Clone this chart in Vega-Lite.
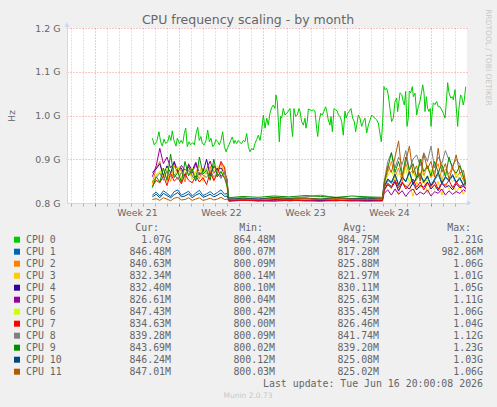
{
"$schema": "https://vega.github.io/schema/vega-lite/v6.json",
"autosize": "none",
"padding": {"left": 67, "top": 28, "right": 430, "bottom": 379},
"background": "#F0F0F0",
"bounds": "flush",
"spacing": 24.7,
"title": {"text": "RRDTOOL / TOBI OETIKER", "orient": "right", "anchor": "start", "frame": "bounds", "font": "DejaVu Sans", "fontSize": 7.5, "fontWeight": "normal", "color": "#C8C8C8", "offset": 1.5, "dx": -4.5},
"config": {"view": {"stroke": null}, "font": "DejaVu Sans"},
"datasets": {
"freq": [
{"cpu":0,"day":4.78,"mhz":948},{"cpu":0,"day":4.94,"mhz":933},{"cpu":0,"day":5.14,"mhz":940},{"cpu":0,"day":5.33,"mhz":963},{"cpu":0,"day":5.47,"mhz":940},{"cpu":0,"day":5.61,"mhz":930},{"cpu":0,"day":5.75,"mhz":946},{"cpu":0,"day":5.89,"mhz":936},{"cpu":0,"day":6.06,"mhz":940},{"cpu":0,"day":6.19,"mhz":955},{"cpu":0,"day":6.33,"mhz":943},{"cpu":0,"day":6.44,"mhz":965},{"cpu":0,"day":6.58,"mhz":943},{"cpu":0,"day":6.75,"mhz":930},{"cpu":0,"day":6.86,"mhz":948},{"cpu":0,"day":7.03,"mhz":936},{"cpu":0,"day":7.17,"mhz":943},{"cpu":0,"day":7.31,"mhz":936},{"cpu":0,"day":7.44,"mhz":959},{"cpu":0,"day":7.56,"mhz":971},{"cpu":0,"day":7.69,"mhz":929},{"cpu":0,"day":7.83,"mhz":940},{"cpu":0,"day":7.97,"mhz":933},{"cpu":0,"day":8.14,"mhz":938},{"cpu":0,"day":8.28,"mhz":933},{"cpu":0,"day":8.42,"mhz":959},{"cpu":0,"day":8.56,"mhz":973},{"cpu":0,"day":8.69,"mhz":943},{"cpu":0,"day":8.83,"mhz":952},{"cpu":0,"day":8.94,"mhz":936},{"cpu":0,"day":9.11,"mhz":933},{"cpu":0,"day":9.25,"mhz":943},{"cpu":0,"day":9.39,"mhz":967},{"cpu":0,"day":9.53,"mhz":940},{"cpu":0,"day":9.67,"mhz":948},{"cpu":0,"day":9.81,"mhz":929},{"cpu":0,"day":9.94,"mhz":933},{"cpu":0,"day":10.08,"mhz":945},{"cpu":0,"day":10.22,"mhz":940},{"cpu":0,"day":10.36,"mhz":933},{"cpu":0,"day":10.5,"mhz":943},{"cpu":0,"day":10.64,"mhz":963},{"cpu":0,"day":10.78,"mhz":929},{"cpu":0,"day":10.92,"mhz":917},{"cpu":0,"day":11.06,"mhz":927},{"cpu":0,"day":11.17,"mhz":933},{"cpu":0,"day":11.31,"mhz":943},{"cpu":0,"day":11.44,"mhz":951},{"cpu":0,"day":11.58,"mhz":936},{"cpu":0,"day":11.67,"mhz":943},{"cpu":0,"day":11.81,"mhz":936},{"cpu":0,"day":11.94,"mhz":943},{"cpu":0,"day":12.08,"mhz":938},{"cpu":0,"day":12.22,"mhz":936},{"cpu":0,"day":12.36,"mhz":943},{"cpu":0,"day":12.5,"mhz":940},{"cpu":0,"day":12.64,"mhz":959},{"cpu":0,"day":12.78,"mhz":929},{"cpu":0,"day":12.92,"mhz":917},{"cpu":0,"day":13.06,"mhz":925},{"cpu":0,"day":13.19,"mhz":921},{"cpu":0,"day":13.33,"mhz":936},{"cpu":0,"day":13.47,"mhz":945},{"cpu":0,"day":13.61,"mhz":955},{"cpu":0,"day":13.75,"mhz":943},{"cpu":0,"day":13.89,"mhz":967},{"cpu":0,"day":14.03,"mhz":1001},{"cpu":0,"day":14.17,"mhz":971},{"cpu":0,"day":14.31,"mhz":994},{"cpu":0,"day":14.44,"mhz":978},{"cpu":0,"day":14.58,"mhz":1005},{"cpu":0,"day":14.72,"mhz":1018},{"cpu":0,"day":14.86,"mhz":1024},{"cpu":0,"day":15.0,"mhz":1016},{"cpu":0,"day":15.08,"mhz":1047},{"cpu":0,"day":15.19,"mhz":1032},{"cpu":0,"day":15.28,"mhz":986},{"cpu":0,"day":15.36,"mhz":940},{"cpu":0,"day":15.47,"mhz":998},{"cpu":0,"day":15.56,"mhz":994},{"cpu":0,"day":15.69,"mhz":1016},{"cpu":0,"day":15.83,"mhz":1001},{"cpu":0,"day":15.97,"mhz":1005},{"cpu":0,"day":16.11,"mhz":1010},{"cpu":0,"day":16.25,"mhz":1016},{"cpu":0,"day":16.39,"mhz":971},{"cpu":0,"day":16.47,"mhz":952},{"cpu":0,"day":16.58,"mhz":1016},{"cpu":0,"day":16.72,"mhz":998},{"cpu":0,"day":16.86,"mhz":1001},{"cpu":0,"day":17.0,"mhz":1016},{"cpu":0,"day":17.08,"mhz":1010},{"cpu":0,"day":17.22,"mhz":986},{"cpu":0,"day":17.36,"mhz":978},{"cpu":0,"day":17.5,"mhz":994},{"cpu":0,"day":17.58,"mhz":971},{"cpu":0,"day":17.69,"mhz":986},{"cpu":0,"day":17.78,"mhz":1015},{"cpu":0,"day":17.92,"mhz":1013},{"cpu":0,"day":18.06,"mhz":1011},{"cpu":0,"day":18.19,"mhz":1013},{"cpu":0,"day":18.33,"mhz":1010},{"cpu":0,"day":18.47,"mhz":971},{"cpu":0,"day":18.56,"mhz":952},{"cpu":0,"day":18.67,"mhz":986},{"cpu":0,"day":18.81,"mhz":1005},{"cpu":0,"day":18.94,"mhz":1001},{"cpu":0,"day":19.08,"mhz":1010},{"cpu":0,"day":19.22,"mhz":1020},{"cpu":0,"day":19.31,"mhz":1010},{"cpu":0,"day":19.44,"mhz":990},{"cpu":0,"day":19.58,"mhz":978},{"cpu":0,"day":19.67,"mhz":998},{"cpu":0,"day":19.78,"mhz":963},{"cpu":0,"day":19.92,"mhz":1016},{"cpu":0,"day":20.06,"mhz":1013},{"cpu":0,"day":20.19,"mhz":1010},{"cpu":0,"day":20.28,"mhz":1001},{"cpu":0,"day":20.42,"mhz":998},{"cpu":0,"day":20.56,"mhz":986},{"cpu":0,"day":20.69,"mhz":955},{"cpu":0,"day":20.83,"mhz":1010},{"cpu":0,"day":20.92,"mhz":994},{"cpu":0,"day":21.06,"mhz":1005},{"cpu":0,"day":21.19,"mhz":1010},{"cpu":0,"day":21.33,"mhz":1016},{"cpu":0,"day":21.47,"mhz":994},{"cpu":0,"day":21.61,"mhz":986},{"cpu":0,"day":21.72,"mhz":963},{"cpu":0,"day":21.81,"mhz":978},{"cpu":0,"day":21.94,"mhz":1001},{"cpu":0,"day":22.08,"mhz":994},{"cpu":0,"day":22.22,"mhz":975},{"cpu":0,"day":22.36,"mhz":986},{"cpu":0,"day":22.5,"mhz":994},{"cpu":0,"day":22.64,"mhz":960},{"cpu":0,"day":22.78,"mhz":978},{"cpu":0,"day":22.92,"mhz":990},{"cpu":0,"day":23.06,"mhz":1001},{"cpu":0,"day":23.19,"mhz":997},{"cpu":0,"day":23.33,"mhz":994},{"cpu":0,"day":23.47,"mhz":990},{"cpu":0,"day":23.61,"mhz":983},{"cpu":0,"day":23.75,"mhz":958},{"cpu":0,"day":23.86,"mhz":940},{"cpu":0,"day":23.97,"mhz":983},{"cpu":0,"day":24.08,"mhz":1066},{"cpu":0,"day":24.17,"mhz":1059},{"cpu":0,"day":24.31,"mhz":1062},{"cpu":0,"day":24.44,"mhz":1047},{"cpu":0,"day":24.58,"mhz":1016},{"cpu":0,"day":24.72,"mhz":986},{"cpu":0,"day":24.86,"mhz":994},{"cpu":0,"day":25.0,"mhz":1032},{"cpu":0,"day":25.14,"mhz":1040},{"cpu":0,"day":25.22,"mhz":1009},{"cpu":0,"day":25.33,"mhz":1032},{"cpu":0,"day":25.42,"mhz":1052},{"cpu":0,"day":25.56,"mhz":1048},{"cpu":0,"day":25.69,"mhz":1032},{"cpu":0,"day":25.78,"mhz":1024},{"cpu":0,"day":25.89,"mhz":1055},{"cpu":0,"day":26.0,"mhz":975},{"cpu":0,"day":26.11,"mhz":994},{"cpu":0,"day":26.19,"mhz":1056},{"cpu":0,"day":26.31,"mhz":1052},{"cpu":0,"day":26.44,"mhz":1066},{"cpu":0,"day":26.53,"mhz":1043},{"cpu":0,"day":26.67,"mhz":1051},{"cpu":0,"day":26.81,"mhz":1001},{"cpu":0,"day":26.94,"mhz":1020},{"cpu":0,"day":27.08,"mhz":1032},{"cpu":0,"day":27.22,"mhz":1055},{"cpu":0,"day":27.31,"mhz":1070},{"cpu":0,"day":27.42,"mhz":1051},{"cpu":0,"day":27.5,"mhz":1009},{"cpu":0,"day":27.61,"mhz":1043},{"cpu":0,"day":27.72,"mhz":1016},{"cpu":0,"day":27.83,"mhz":1009},{"cpu":0,"day":27.94,"mhz":1016},{"cpu":0,"day":28.0,"mhz":975},{"cpu":0,"day":28.11,"mhz":1009},{"cpu":0,"day":28.19,"mhz":1029},{"cpu":0,"day":28.33,"mhz":1025},{"cpu":0,"day":28.47,"mhz":1032},{"cpu":0,"day":28.61,"mhz":1020},{"cpu":0,"day":28.75,"mhz":1020},{"cpu":0,"day":28.89,"mhz":1013},{"cpu":0,"day":29.03,"mhz":1005},{"cpu":0,"day":29.17,"mhz":994},{"cpu":0,"day":29.28,"mhz":1032},{"cpu":0,"day":29.39,"mhz":1075},{"cpu":0,"day":29.5,"mhz":1052},{"cpu":0,"day":29.64,"mhz":1040},{"cpu":0,"day":29.78,"mhz":1043},{"cpu":0,"day":29.86,"mhz":1036},{"cpu":0,"day":30.0,"mhz":1059},{"cpu":0,"day":30.11,"mhz":1017},{"cpu":0,"day":30.22,"mhz":975},{"cpu":0,"day":30.33,"mhz":1017},{"cpu":0,"day":30.47,"mhz":1047},{"cpu":0,"day":30.56,"mhz":1043},{"cpu":0,"day":30.69,"mhz":1024},{"cpu":0,"day":30.78,"mhz":1036},{"cpu":0,"day":30.89,"mhz":1066},
{"cpu":1,"day":4.78,"mhz":818},{"cpu":1,"day":5.1,"mhz":825},{"cpu":1,"day":5.4,"mhz":816},{"cpu":1,"day":5.7,"mhz":828},{"cpu":1,"day":6.0,"mhz":822},{"cpu":1,"day":6.3,"mhz":815},{"cpu":1,"day":6.6,"mhz":826},{"cpu":1,"day":6.9,"mhz":830},{"cpu":1,"day":7.2,"mhz":818},{"cpu":1,"day":7.5,"mhz":822},{"cpu":1,"day":7.8,"mhz":827},{"cpu":1,"day":8.1,"mhz":816},{"cpu":1,"day":8.4,"mhz":823},{"cpu":1,"day":8.7,"mhz":829},{"cpu":1,"day":9.0,"mhz":817},{"cpu":1,"day":9.3,"mhz":821},{"cpu":1,"day":9.6,"mhz":826},{"cpu":1,"day":9.9,"mhz":819},{"cpu":1,"day":10.2,"mhz":824},{"cpu":1,"day":10.5,"mhz":830},{"cpu":1,"day":10.8,"mhz":820},{"cpu":1,"day":11.0,"mhz":822},
{"cpu":1,"day":11.15,"mhz":806},{"cpu":1,"day":12.3,"mhz":808},{"cpu":1,"day":13.6,"mhz":805},{"cpu":1,"day":14.9,"mhz":809},{"cpu":1,"day":16.2,"mhz":806},{"cpu":1,"day":17.5,"mhz":807},{"cpu":1,"day":18.8,"mhz":805},{"cpu":1,"day":20.1,"mhz":808},{"cpu":1,"day":21.4,"mhz":806},{"cpu":1,"day":22.7,"mhz":807},{"cpu":1,"day":23.95,"mhz":806},
{"cpu":1,"day":24.1,"mhz":835},{"cpu":1,"day":24.4,"mhz":852},{"cpu":1,"day":24.7,"mhz":845},{"cpu":1,"day":25.0,"mhz":862},{"cpu":1,"day":25.3,"mhz":840},{"cpu":1,"day":25.6,"mhz":858},{"cpu":1,"day":25.9,"mhz":848},{"cpu":1,"day":26.2,"mhz":870},{"cpu":1,"day":26.5,"mhz":842},{"cpu":1,"day":26.8,"mhz":855},{"cpu":1,"day":27.1,"mhz":864},{"cpu":1,"day":27.4,"mhz":846},{"cpu":1,"day":27.7,"mhz":860},{"cpu":1,"day":28.0,"mhz":838},{"cpu":1,"day":28.3,"mhz":852},{"cpu":1,"day":28.6,"mhz":866},{"cpu":1,"day":28.9,"mhz":844},{"cpu":1,"day":29.2,"mhz":858},{"cpu":1,"day":29.5,"mhz":850},{"cpu":1,"day":29.8,"mhz":862},{"cpu":1,"day":30.1,"mhz":845},{"cpu":1,"day":30.4,"mhz":856},{"cpu":1,"day":30.7,"mhz":840},{"cpu":1,"day":30.89,"mhz":846},
{"cpu":2,"day":4.78,"mhz":845},{"cpu":2,"day":5.1,"mhz":880},{"cpu":2,"day":5.4,"mhz":895},{"cpu":2,"day":5.7,"mhz":860},{"cpu":2,"day":6.0,"mhz":872},{"cpu":2,"day":6.3,"mhz":850},{"cpu":2,"day":6.6,"mhz":885},{"cpu":2,"day":6.9,"mhz":868},{"cpu":2,"day":7.2,"mhz":876},{"cpu":2,"day":7.5,"mhz":848},{"cpu":2,"day":7.8,"mhz":890},{"cpu":2,"day":8.1,"mhz":862},{"cpu":2,"day":8.4,"mhz":870},{"cpu":2,"day":8.7,"mhz":855},{"cpu":2,"day":9.0,"mhz":880},{"cpu":2,"day":9.3,"mhz":866},{"cpu":2,"day":9.6,"mhz":884},{"cpu":2,"day":9.9,"mhz":850},{"cpu":2,"day":10.2,"mhz":875},{"cpu":2,"day":10.5,"mhz":892},{"cpu":2,"day":10.8,"mhz":858},{"cpu":2,"day":11.0,"mhz":846},
{"cpu":2,"day":11.15,"mhz":807},{"cpu":2,"day":12.3,"mhz":809},{"cpu":2,"day":13.6,"mhz":806},{"cpu":2,"day":14.9,"mhz":808},{"cpu":2,"day":16.2,"mhz":810},{"cpu":2,"day":17.5,"mhz":807},{"cpu":2,"day":18.8,"mhz":809},{"cpu":2,"day":20.1,"mhz":806},{"cpu":2,"day":21.4,"mhz":808},{"cpu":2,"day":22.7,"mhz":807},{"cpu":2,"day":23.95,"mhz":808},
{"cpu":2,"day":24.1,"mhz":840},{"cpu":2,"day":24.4,"mhz":870},{"cpu":2,"day":24.7,"mhz":895},{"cpu":2,"day":25.0,"mhz":860},{"cpu":2,"day":25.3,"mhz":880},{"cpu":2,"day":25.6,"mhz":848},{"cpu":2,"day":25.9,"mhz":890},{"cpu":2,"day":26.2,"mhz":868},{"cpu":2,"day":26.5,"mhz":875},{"cpu":2,"day":26.8,"mhz":852},{"cpu":2,"day":27.1,"mhz":900},{"cpu":2,"day":27.4,"mhz":862},{"cpu":2,"day":27.7,"mhz":885},{"cpu":2,"day":28.0,"mhz":858},{"cpu":2,"day":28.3,"mhz":872},{"cpu":2,"day":28.6,"mhz":890},{"cpu":2,"day":28.9,"mhz":850},{"cpu":2,"day":29.2,"mhz":878},{"cpu":2,"day":29.5,"mhz":866},{"cpu":2,"day":29.8,"mhz":884},{"cpu":2,"day":30.1,"mhz":858},{"cpu":2,"day":30.4,"mhz":870},{"cpu":2,"day":30.7,"mhz":852},{"cpu":2,"day":30.89,"mhz":841},
{"cpu":3,"day":4.78,"mhz":840},{"cpu":3,"day":5.1,"mhz":865},{"cpu":3,"day":5.4,"mhz":870},{"cpu":3,"day":5.7,"mhz":880},{"cpu":3,"day":6.0,"mhz":848},{"cpu":3,"day":6.3,"mhz":873},{"cpu":3,"day":6.6,"mhz":858},{"cpu":3,"day":6.9,"mhz":882},{"cpu":3,"day":7.2,"mhz":846},{"cpu":3,"day":7.5,"mhz":868},{"cpu":3,"day":7.8,"mhz":876},{"cpu":3,"day":8.1,"mhz":855},{"cpu":3,"day":8.4,"mhz":872},{"cpu":3,"day":8.7,"mhz":886},{"cpu":3,"day":9.0,"mhz":850},{"cpu":3,"day":9.3,"mhz":878},{"cpu":3,"day":9.6,"mhz":866},{"cpu":3,"day":9.9,"mhz":888},{"cpu":3,"day":10.2,"mhz":860},{"cpu":3,"day":10.5,"mhz":870},{"cpu":3,"day":10.8,"mhz":884},{"cpu":3,"day":11.0,"mhz":835},
{"cpu":3,"day":11.15,"mhz":808},{"cpu":3,"day":12.3,"mhz":810},{"cpu":3,"day":13.6,"mhz":807},{"cpu":3,"day":14.9,"mhz":811},{"cpu":3,"day":16.2,"mhz":808},{"cpu":3,"day":17.5,"mhz":812},{"cpu":3,"day":18.8,"mhz":809},{"cpu":3,"day":20.1,"mhz":810},{"cpu":3,"day":21.4,"mhz":808},{"cpu":3,"day":22.7,"mhz":811},{"cpu":3,"day":23.95,"mhz":809},
{"cpu":3,"day":24.1,"mhz":825},{"cpu":3,"day":24.4,"mhz":845},{"cpu":3,"day":24.7,"mhz":832},{"cpu":3,"day":25.0,"mhz":858},{"cpu":3,"day":25.3,"mhz":820},{"cpu":3,"day":25.6,"mhz":850},{"cpu":3,"day":25.9,"mhz":838},{"cpu":3,"day":26.2,"mhz":845},{"cpu":3,"day":26.5,"mhz":815},{"cpu":3,"day":26.8,"mhz":848},{"cpu":3,"day":27.1,"mhz":835},{"cpu":3,"day":27.4,"mhz":855},{"cpu":3,"day":27.7,"mhz":822},{"cpu":3,"day":28.0,"mhz":842},{"cpu":3,"day":28.3,"mhz":830},{"cpu":3,"day":28.6,"mhz":850},{"cpu":3,"day":28.9,"mhz":818},{"cpu":3,"day":29.2,"mhz":845},{"cpu":3,"day":29.5,"mhz":832},{"cpu":3,"day":29.8,"mhz":840},{"cpu":3,"day":30.1,"mhz":825},{"cpu":3,"day":30.4,"mhz":838},{"cpu":3,"day":30.7,"mhz":820},{"cpu":3,"day":30.89,"mhz":832},
{"cpu":4,"day":4.78,"mhz":870},{"cpu":4,"day":5.1,"mhz":878},{"cpu":4,"day":5.4,"mhz":890},{"cpu":4,"day":5.7,"mhz":862},{"cpu":4,"day":6.0,"mhz":885},{"cpu":4,"day":6.3,"mhz":868},{"cpu":4,"day":6.6,"mhz":895},{"cpu":4,"day":6.9,"mhz":872},{"cpu":4,"day":7.2,"mhz":880},{"cpu":4,"day":7.5,"mhz":860},{"cpu":4,"day":7.8,"mhz":888},{"cpu":4,"day":8.1,"mhz":875},{"cpu":4,"day":8.4,"mhz":893},{"cpu":4,"day":8.7,"mhz":866},{"cpu":4,"day":9.0,"mhz":870},{"cpu":4,"day":9.3,"mhz":900},{"cpu":4,"day":9.6,"mhz":862},{"cpu":4,"day":9.9,"mhz":884},{"cpu":4,"day":10.2,"mhz":876},{"cpu":4,"day":10.5,"mhz":880},{"cpu":4,"day":10.8,"mhz":868},{"cpu":4,"day":11.0,"mhz":855},
{"cpu":4,"day":11.15,"mhz":805},{"cpu":4,"day":12.3,"mhz":807},{"cpu":4,"day":13.6,"mhz":806},{"cpu":4,"day":14.9,"mhz":808},{"cpu":4,"day":16.2,"mhz":805},{"cpu":4,"day":17.5,"mhz":807},{"cpu":4,"day":18.8,"mhz":806},{"cpu":4,"day":20.1,"mhz":805},{"cpu":4,"day":21.4,"mhz":807},{"cpu":4,"day":22.7,"mhz":806},{"cpu":4,"day":23.95,"mhz":805},
{"cpu":4,"day":24.1,"mhz":830},{"cpu":4,"day":24.4,"mhz":842},{"cpu":4,"day":24.7,"mhz":835},{"cpu":4,"day":25.0,"mhz":848},{"cpu":4,"day":25.3,"mhz":828},{"cpu":4,"day":25.6,"mhz":845},{"cpu":4,"day":25.9,"mhz":838},{"cpu":4,"day":26.2,"mhz":832},{"cpu":4,"day":26.5,"mhz":846},{"cpu":4,"day":26.8,"mhz":830},{"cpu":4,"day":27.1,"mhz":840},{"cpu":4,"day":27.4,"mhz":836},{"cpu":4,"day":27.7,"mhz":848},{"cpu":4,"day":28.0,"mhz":832},{"cpu":4,"day":28.3,"mhz":842},{"cpu":4,"day":28.6,"mhz":828},{"cpu":4,"day":28.9,"mhz":845},{"cpu":4,"day":29.2,"mhz":836},{"cpu":4,"day":29.5,"mhz":840},{"cpu":4,"day":29.8,"mhz":830},{"cpu":4,"day":30.1,"mhz":844},{"cpu":4,"day":30.4,"mhz":835},{"cpu":4,"day":30.7,"mhz":838},{"cpu":4,"day":30.89,"mhz":832},
{"cpu":5,"day":4.78,"mhz":860},{"cpu":5,"day":5.1,"mhz":885},{"cpu":5,"day":5.4,"mhz":925},{"cpu":5,"day":5.7,"mhz":890},{"cpu":5,"day":6.0,"mhz":905},{"cpu":5,"day":6.3,"mhz":880},{"cpu":5,"day":6.6,"mhz":892},{"cpu":5,"day":6.9,"mhz":870},{"cpu":5,"day":7.2,"mhz":886},{"cpu":5,"day":7.5,"mhz":875},{"cpu":5,"day":7.8,"mhz":882},{"cpu":5,"day":8.1,"mhz":868},{"cpu":5,"day":8.4,"mhz":890},{"cpu":5,"day":8.7,"mhz":864},{"cpu":5,"day":9.0,"mhz":872},{"cpu":5,"day":9.3,"mhz":878},{"cpu":5,"day":9.6,"mhz":896},{"cpu":5,"day":9.9,"mhz":868},{"cpu":5,"day":10.2,"mhz":880},{"cpu":5,"day":10.5,"mhz":860},{"cpu":5,"day":10.8,"mhz":872},{"cpu":5,"day":11.0,"mhz":850},
{"cpu":5,"day":11.15,"mhz":806},{"cpu":5,"day":12.3,"mhz":807},{"cpu":5,"day":13.6,"mhz":805},{"cpu":5,"day":14.9,"mhz":806},{"cpu":5,"day":16.2,"mhz":808},{"cpu":5,"day":17.5,"mhz":805},{"cpu":5,"day":18.8,"mhz":807},{"cpu":5,"day":20.1,"mhz":806},{"cpu":5,"day":21.4,"mhz":805},{"cpu":5,"day":22.7,"mhz":807},{"cpu":5,"day":23.95,"mhz":806},
{"cpu":5,"day":24.1,"mhz":822},{"cpu":5,"day":24.4,"mhz":830},{"cpu":5,"day":24.7,"mhz":818},{"cpu":5,"day":25.0,"mhz":832},{"cpu":5,"day":25.3,"mhz":820},{"cpu":5,"day":25.6,"mhz":828},{"cpu":5,"day":25.9,"mhz":815},{"cpu":5,"day":26.2,"mhz":826},{"cpu":5,"day":26.5,"mhz":832},{"cpu":5,"day":26.8,"mhz":818},{"cpu":5,"day":27.1,"mhz":825},{"cpu":5,"day":27.4,"mhz":820},{"cpu":5,"day":27.7,"mhz":830},{"cpu":5,"day":28.0,"mhz":816},{"cpu":5,"day":28.3,"mhz":826},{"cpu":5,"day":28.6,"mhz":822},{"cpu":5,"day":28.9,"mhz":832},{"cpu":5,"day":29.2,"mhz":818},{"cpu":5,"day":29.5,"mhz":828},{"cpu":5,"day":29.8,"mhz":820},{"cpu":5,"day":30.1,"mhz":826},{"cpu":5,"day":30.4,"mhz":822},{"cpu":5,"day":30.7,"mhz":830},{"cpu":5,"day":30.89,"mhz":827},
{"cpu":6,"day":4.78,"mhz":850},{"cpu":6,"day":5.1,"mhz":862},{"cpu":6,"day":5.4,"mhz":872},{"cpu":6,"day":5.7,"mhz":858},{"cpu":6,"day":6.0,"mhz":880},{"cpu":6,"day":6.3,"mhz":866},{"cpu":6,"day":6.6,"mhz":870},{"cpu":6,"day":6.9,"mhz":884},{"cpu":6,"day":7.2,"mhz":858},{"cpu":6,"day":7.5,"mhz":876},{"cpu":6,"day":7.8,"mhz":864},{"cpu":6,"day":8.1,"mhz":880},{"cpu":6,"day":8.4,"mhz":862},{"cpu":6,"day":8.7,"mhz":875},{"cpu":6,"day":9.0,"mhz":868},{"cpu":6,"day":9.3,"mhz":882},{"cpu":6,"day":9.6,"mhz":858},{"cpu":6,"day":9.9,"mhz":872},{"cpu":6,"day":10.2,"mhz":885},{"cpu":6,"day":10.5,"mhz":866},{"cpu":6,"day":10.8,"mhz":874},{"cpu":6,"day":11.0,"mhz":848},
{"cpu":6,"day":11.15,"mhz":809},{"cpu":6,"day":12.3,"mhz":811},{"cpu":6,"day":13.6,"mhz":808},{"cpu":6,"day":14.9,"mhz":810},{"cpu":6,"day":16.2,"mhz":812},{"cpu":6,"day":17.5,"mhz":809},{"cpu":6,"day":18.8,"mhz":811},{"cpu":6,"day":20.1,"mhz":813},{"cpu":6,"day":21.4,"mhz":810},{"cpu":6,"day":22.7,"mhz":812},{"cpu":6,"day":23.95,"mhz":809},
{"cpu":6,"day":24.1,"mhz":845},{"cpu":6,"day":24.4,"mhz":862},{"cpu":6,"day":24.7,"mhz":875},{"cpu":6,"day":25.0,"mhz":850},{"cpu":6,"day":25.3,"mhz":868},{"cpu":6,"day":25.6,"mhz":858},{"cpu":6,"day":25.9,"mhz":880},{"cpu":6,"day":26.2,"mhz":846},{"cpu":6,"day":26.5,"mhz":870},{"cpu":6,"day":26.8,"mhz":855},{"cpu":6,"day":27.1,"mhz":872},{"cpu":6,"day":27.4,"mhz":862},{"cpu":6,"day":27.7,"mhz":848},{"cpu":6,"day":28.0,"mhz":876},{"cpu":6,"day":28.3,"mhz":858},{"cpu":6,"day":28.6,"mhz":866},{"cpu":6,"day":28.9,"mhz":852},{"cpu":6,"day":29.2,"mhz":870},{"cpu":6,"day":29.5,"mhz":860},{"cpu":6,"day":29.8,"mhz":848},{"cpu":6,"day":30.1,"mhz":866},{"cpu":6,"day":30.4,"mhz":855},{"cpu":6,"day":30.7,"mhz":862},{"cpu":6,"day":30.89,"mhz":847},
{"cpu":7,"day":4.78,"mhz":838},{"cpu":7,"day":5.1,"mhz":852},{"cpu":7,"day":5.4,"mhz":846},{"cpu":7,"day":5.7,"mhz":862},{"cpu":7,"day":6.0,"mhz":840},{"cpu":7,"day":6.3,"mhz":868},{"cpu":7,"day":6.6,"mhz":850},{"cpu":7,"day":6.9,"mhz":858},{"cpu":7,"day":7.2,"mhz":844},{"cpu":7,"day":7.5,"mhz":866},{"cpu":7,"day":7.8,"mhz":852},{"cpu":7,"day":8.1,"mhz":846},{"cpu":7,"day":8.4,"mhz":862},{"cpu":7,"day":8.7,"mhz":848},{"cpu":7,"day":9.0,"mhz":858},{"cpu":7,"day":9.3,"mhz":842},{"cpu":7,"day":9.6,"mhz":870},{"cpu":7,"day":9.9,"mhz":852},{"cpu":7,"day":10.2,"mhz":866},{"cpu":7,"day":10.5,"mhz":895},{"cpu":7,"day":10.8,"mhz":880},{"cpu":7,"day":11.0,"mhz":845},
{"cpu":7,"day":11.15,"mhz":804},{"cpu":7,"day":12.3,"mhz":806},{"cpu":7,"day":13.6,"mhz":805},{"cpu":7,"day":14.9,"mhz":804},{"cpu":7,"day":16.2,"mhz":806},{"cpu":7,"day":17.5,"mhz":805},{"cpu":7,"day":18.8,"mhz":804},{"cpu":7,"day":20.1,"mhz":806},{"cpu":7,"day":21.4,"mhz":805},{"cpu":7,"day":22.7,"mhz":804},{"cpu":7,"day":23.95,"mhz":805},
{"cpu":7,"day":24.1,"mhz":830},{"cpu":7,"day":24.4,"mhz":845},{"cpu":7,"day":24.7,"mhz":838},{"cpu":7,"day":25.0,"mhz":852},{"cpu":7,"day":25.3,"mhz":835},{"cpu":7,"day":25.6,"mhz":848},{"cpu":7,"day":25.9,"mhz":832},{"cpu":7,"day":26.2,"mhz":842},{"cpu":7,"day":26.5,"mhz":855},{"cpu":7,"day":26.8,"mhz":836},{"cpu":7,"day":27.1,"mhz":848},{"cpu":7,"day":27.4,"mhz":830},{"cpu":7,"day":27.7,"mhz":845},{"cpu":7,"day":28.0,"mhz":838},{"cpu":7,"day":28.3,"mhz":850},{"cpu":7,"day":28.6,"mhz":832},{"cpu":7,"day":28.9,"mhz":846},{"cpu":7,"day":29.2,"mhz":840},{"cpu":7,"day":29.5,"mhz":852},{"cpu":7,"day":29.8,"mhz":835},{"cpu":7,"day":30.1,"mhz":848},{"cpu":7,"day":30.4,"mhz":838},{"cpu":7,"day":30.7,"mhz":842},{"cpu":7,"day":30.89,"mhz":835},
{"cpu":8,"day":4.78,"mhz":848},{"cpu":8,"day":5.1,"mhz":858},{"cpu":8,"day":5.4,"mhz":868},{"cpu":8,"day":5.7,"mhz":852},{"cpu":8,"day":6.0,"mhz":874},{"cpu":8,"day":6.3,"mhz":860},{"cpu":8,"day":6.6,"mhz":866},{"cpu":8,"day":6.9,"mhz":854},{"cpu":8,"day":7.2,"mhz":870},{"cpu":8,"day":7.5,"mhz":858},{"cpu":8,"day":7.8,"mhz":876},{"cpu":8,"day":8.1,"mhz":862},{"cpu":8,"day":8.4,"mhz":852},{"cpu":8,"day":8.7,"mhz":870},{"cpu":8,"day":9.0,"mhz":864},{"cpu":8,"day":9.3,"mhz":858},{"cpu":8,"day":9.6,"mhz":874},{"cpu":8,"day":9.9,"mhz":860},{"cpu":8,"day":10.2,"mhz":868},{"cpu":8,"day":10.5,"mhz":856},{"cpu":8,"day":10.8,"mhz":872},{"cpu":8,"day":11.0,"mhz":850},
{"cpu":8,"day":11.15,"mhz":810},{"cpu":8,"day":12.3,"mhz":812},{"cpu":8,"day":13.6,"mhz":809},{"cpu":8,"day":14.9,"mhz":813},{"cpu":8,"day":16.2,"mhz":811},{"cpu":8,"day":17.5,"mhz":814},{"cpu":8,"day":18.8,"mhz":818},{"cpu":8,"day":20.1,"mhz":812},{"cpu":8,"day":21.4,"mhz":810},{"cpu":8,"day":22.7,"mhz":813},{"cpu":8,"day":23.95,"mhz":811},
{"cpu":8,"day":24.1,"mhz":850},{"cpu":8,"day":24.4,"mhz":895},{"cpu":8,"day":24.7,"mhz":915},{"cpu":8,"day":25.0,"mhz":880},{"cpu":8,"day":25.3,"mhz":905},{"cpu":8,"day":25.6,"mhz":888},{"cpu":8,"day":25.9,"mhz":920},{"cpu":8,"day":26.2,"mhz":876},{"cpu":8,"day":26.5,"mhz":900},{"cpu":8,"day":26.8,"mhz":910},{"cpu":8,"day":27.1,"mhz":885},{"cpu":8,"day":27.4,"mhz":915},{"cpu":8,"day":27.7,"mhz":895},{"cpu":8,"day":28.0,"mhz":930},{"cpu":8,"day":28.3,"mhz":880},{"cpu":8,"day":28.6,"mhz":905},{"cpu":8,"day":28.9,"mhz":890},{"cpu":8,"day":29.2,"mhz":920},{"cpu":8,"day":29.5,"mhz":898},{"cpu":8,"day":29.8,"mhz":885},{"cpu":8,"day":30.1,"mhz":900},{"cpu":8,"day":30.4,"mhz":888},{"cpu":8,"day":30.7,"mhz":860},{"cpu":8,"day":30.89,"mhz":839},
{"cpu":9,"day":4.78,"mhz":835},{"cpu":9,"day":5.1,"mhz":860},{"cpu":9,"day":5.4,"mhz":848},{"cpu":9,"day":5.7,"mhz":880},{"cpu":9,"day":6.0,"mhz":852},{"cpu":9,"day":6.3,"mhz":912},{"cpu":9,"day":6.6,"mhz":858},{"cpu":9,"day":6.9,"mhz":870},{"cpu":9,"day":7.2,"mhz":848},{"cpu":9,"day":7.5,"mhz":895},{"cpu":9,"day":7.8,"mhz":862},{"cpu":9,"day":8.1,"mhz":878},{"cpu":9,"day":8.4,"mhz":850},{"cpu":9,"day":8.7,"mhz":905},{"cpu":9,"day":9.0,"mhz":866},{"cpu":9,"day":9.3,"mhz":875},{"cpu":9,"day":9.6,"mhz":852},{"cpu":9,"day":9.9,"mhz":900},{"cpu":9,"day":10.2,"mhz":860},{"cpu":9,"day":10.5,"mhz":872},{"cpu":9,"day":10.8,"mhz":856},{"cpu":9,"day":11.0,"mhz":840},
{"cpu":9,"day":11.15,"mhz":812},{"cpu":9,"day":12.3,"mhz":815},{"cpu":9,"day":13.6,"mhz":813},{"cpu":9,"day":14.9,"mhz":816},{"cpu":9,"day":16.2,"mhz":814},{"cpu":9,"day":17.5,"mhz":817},{"cpu":9,"day":18.8,"mhz":815},{"cpu":9,"day":20.1,"mhz":813},{"cpu":9,"day":21.4,"mhz":816},{"cpu":9,"day":22.7,"mhz":814},{"cpu":9,"day":23.95,"mhz":813},
{"cpu":9,"day":24.1,"mhz":845},{"cpu":9,"day":24.4,"mhz":880},{"cpu":9,"day":24.7,"mhz":915},{"cpu":9,"day":25.0,"mhz":870},{"cpu":9,"day":25.3,"mhz":895},{"cpu":9,"day":25.6,"mhz":862},{"cpu":9,"day":25.9,"mhz":905},{"cpu":9,"day":26.2,"mhz":875},{"cpu":9,"day":26.5,"mhz":890},{"cpu":9,"day":26.8,"mhz":858},{"cpu":9,"day":27.1,"mhz":900},{"cpu":9,"day":27.4,"mhz":872},{"cpu":9,"day":27.7,"mhz":885},{"cpu":9,"day":28.0,"mhz":862},{"cpu":9,"day":28.3,"mhz":895},{"cpu":9,"day":28.6,"mhz":870},{"cpu":9,"day":28.9,"mhz":888},{"cpu":9,"day":29.2,"mhz":860},{"cpu":9,"day":29.5,"mhz":905},{"cpu":9,"day":29.8,"mhz":878},{"cpu":9,"day":30.1,"mhz":868},{"cpu":9,"day":30.4,"mhz":885},{"cpu":9,"day":30.7,"mhz":860},{"cpu":9,"day":30.89,"mhz":844},
{"cpu":10,"day":4.78,"mhz":814},{"cpu":10,"day":5.1,"mhz":820},{"cpu":10,"day":5.4,"mhz":812},{"cpu":10,"day":5.7,"mhz":822},{"cpu":10,"day":6.0,"mhz":817},{"cpu":10,"day":6.3,"mhz":812},{"cpu":10,"day":6.6,"mhz":819},{"cpu":10,"day":6.9,"mhz":824},{"cpu":10,"day":7.2,"mhz":814},{"cpu":10,"day":7.5,"mhz":816},{"cpu":10,"day":7.8,"mhz":821},{"cpu":10,"day":8.1,"mhz":812},{"cpu":10,"day":8.4,"mhz":818},{"cpu":10,"day":8.7,"mhz":822},{"cpu":10,"day":9.0,"mhz":813},{"cpu":10,"day":9.3,"mhz":816},{"cpu":10,"day":9.6,"mhz":820},{"cpu":10,"day":9.9,"mhz":814},{"cpu":10,"day":10.2,"mhz":818},{"cpu":10,"day":10.5,"mhz":823},{"cpu":10,"day":10.8,"mhz":815},{"cpu":10,"day":11.0,"mhz":816},
{"cpu":10,"day":11.15,"mhz":808},{"cpu":10,"day":12.3,"mhz":811},{"cpu":10,"day":13.6,"mhz":809},{"cpu":10,"day":14.9,"mhz":812},{"cpu":10,"day":16.2,"mhz":810},{"cpu":10,"day":17.5,"mhz":811},{"cpu":10,"day":18.8,"mhz":809},{"cpu":10,"day":20.1,"mhz":812},{"cpu":10,"day":21.4,"mhz":810},{"cpu":10,"day":22.7,"mhz":811},{"cpu":10,"day":23.95,"mhz":809},
{"cpu":10,"day":24.1,"mhz":838},{"cpu":10,"day":24.4,"mhz":855},{"cpu":10,"day":24.7,"mhz":848},{"cpu":10,"day":25.0,"mhz":866},{"cpu":10,"day":25.3,"mhz":842},{"cpu":10,"day":25.6,"mhz":860},{"cpu":10,"day":25.9,"mhz":850},{"cpu":10,"day":26.2,"mhz":872},{"cpu":10,"day":26.5,"mhz":845},{"cpu":10,"day":26.8,"mhz":858},{"cpu":10,"day":27.1,"mhz":868},{"cpu":10,"day":27.4,"mhz":848},{"cpu":10,"day":27.7,"mhz":862},{"cpu":10,"day":28.0,"mhz":840},{"cpu":10,"day":28.3,"mhz":855},{"cpu":10,"day":28.6,"mhz":870},{"cpu":10,"day":28.9,"mhz":846},{"cpu":10,"day":29.2,"mhz":860},{"cpu":10,"day":29.5,"mhz":852},{"cpu":10,"day":29.8,"mhz":865},{"cpu":10,"day":30.1,"mhz":848},{"cpu":10,"day":30.4,"mhz":858},{"cpu":10,"day":30.7,"mhz":842},{"cpu":10,"day":30.89,"mhz":846},
{"cpu":11,"day":4.78,"mhz":808},{"cpu":11,"day":5.1,"mhz":810},{"cpu":11,"day":5.4,"mhz":806},{"cpu":11,"day":5.7,"mhz":812},{"cpu":11,"day":6.0,"mhz":809},{"cpu":11,"day":6.3,"mhz":805},{"cpu":11,"day":6.6,"mhz":811},{"cpu":11,"day":6.9,"mhz":813},{"cpu":11,"day":7.2,"mhz":807},{"cpu":11,"day":7.5,"mhz":808},{"cpu":11,"day":7.8,"mhz":812},{"cpu":11,"day":8.1,"mhz":806},{"cpu":11,"day":8.4,"mhz":809},{"cpu":11,"day":8.7,"mhz":812},{"cpu":11,"day":9.0,"mhz":806},{"cpu":11,"day":9.3,"mhz":808},{"cpu":11,"day":9.6,"mhz":811},{"cpu":11,"day":9.9,"mhz":807},{"cpu":11,"day":10.2,"mhz":809},{"cpu":11,"day":10.5,"mhz":813},{"cpu":11,"day":10.8,"mhz":808},{"cpu":11,"day":11.0,"mhz":809},
{"cpu":11,"day":11.15,"mhz":807},{"cpu":11,"day":12.3,"mhz":809},{"cpu":11,"day":13.6,"mhz":808},{"cpu":11,"day":14.9,"mhz":810},{"cpu":11,"day":16.2,"mhz":809},{"cpu":11,"day":17.5,"mhz":811},{"cpu":11,"day":18.8,"mhz":808},{"cpu":11,"day":20.1,"mhz":810},{"cpu":11,"day":21.4,"mhz":809},{"cpu":11,"day":22.7,"mhz":808},{"cpu":11,"day":23.95,"mhz":810},
{"cpu":11,"day":24.1,"mhz":842},{"cpu":11,"day":24.4,"mhz":885},{"cpu":11,"day":24.7,"mhz":870},{"cpu":11,"day":25.0,"mhz":905},{"cpu":11,"day":25.3,"mhz":942},{"cpu":11,"day":25.6,"mhz":860},{"cpu":11,"day":25.9,"mhz":895},{"cpu":11,"day":26.2,"mhz":930},{"cpu":11,"day":26.5,"mhz":868},{"cpu":11,"day":26.8,"mhz":885},{"cpu":11,"day":27.1,"mhz":850},{"cpu":11,"day":27.4,"mhz":912},{"cpu":11,"day":27.7,"mhz":878},{"cpu":11,"day":28.0,"mhz":895},{"cpu":11,"day":28.3,"mhz":860},{"cpu":11,"day":28.6,"mhz":925},{"cpu":11,"day":28.9,"mhz":870},{"cpu":11,"day":29.2,"mhz":890},{"cpu":11,"day":29.5,"mhz":855},{"cpu":11,"day":29.8,"mhz":880},{"cpu":11,"day":30.1,"mhz":910},{"cpu":11,"day":30.4,"mhz":868},{"cpu":11,"day":30.7,"mhz":875},{"cpu":11,"day":30.89,"mhz":847}
],
"stats": [
{"cpu":0,"name":"CPU 0","cur":"1.07G","min":"864.48M","avg":"984.75M","max":"1.21G"},
{"cpu":1,"name":"CPU 1","cur":"846.48M","min":"800.07M","avg":"817.28M","max":"982.86M"},
{"cpu":2,"name":"CPU 2","cur":"840.63M","min":"800.09M","avg":"825.88M","max":"1.06G"},
{"cpu":3,"name":"CPU 3","cur":"832.34M","min":"800.14M","avg":"821.97M","max":"1.01G"},
{"cpu":4,"name":"CPU 4","cur":"832.40M","min":"800.10M","avg":"830.11M","max":"1.05G"},
{"cpu":5,"name":"CPU 5","cur":"826.61M","min":"800.04M","avg":"825.63M","max":"1.11G"},
{"cpu":6,"name":"CPU 6","cur":"847.43M","min":"800.42M","avg":"835.45M","max":"1.06G"},
{"cpu":7,"name":"CPU 7","cur":"834.63M","min":"800.00M","avg":"826.46M","max":"1.04G"},
{"cpu":8,"name":"CPU 8","cur":"839.28M","min":"800.09M","avg":"841.74M","max":"1.12G"},
{"cpu":9,"name":"CPU 9","cur":"843.69M","min":"800.02M","avg":"839.20M","max":"1.23G"},
{"cpu":10,"name":"CPU 10","cur":"846.24M","min":"800.12M","avg":"825.08M","max":"1.03G"},
{"cpu":11,"name":"CPU 11","cur":"847.01M","min":"800.03M","avg":"825.02M","max":"1.06G"}
]
},
"vconcat": [
{
"width": 400, "height": 175,
"view": {"fill": "#FFFFFF", "stroke": null},
"title": {"text": "CPU frequency scaling - by month", "font": "DejaVu Sans", "fontSize": 12.5, "fontWeight": "normal", "color": "#666666", "anchor": "middle", "baseline": "alphabetic", "dx": -19, "offset": -14},
"resolve": {"axis": {"x": "independent"}},
"layer": [
{"data": {"name": "freq"},
 "mark": {"type": "line", "strokeWidth": 1},
 "encoding": {
  "x": {"field": "day", "type": "quantitative", "scale": {"domain": [-2.3333, 31], "nice": false, "zero": false},
   "axis": {"title": null, "orient": "bottom", "values": [-2,-1,0,1,2,3,4,5,6,7,8,9,10,11,12,13,14,15,16,17,18,19,20,21,22,23,24,25,26,27,28,29,30],
    "labels": false,
    "tickSize": 3,
    "tickColor": {"condition": {"test": "datum.value % 7 === 0", "value": "#E04F4F"}, "value": "#A0A0A0"},
    "tickOpacity": 0.8,
    "grid": true,
    "gridColor": {"condition": {"test": "datum.value % 7 === 0", "value": "#E04F4F"}, "value": "#A0A0A0"},
    "gridOpacity": 0.6,
    "gridDash": [1, 2],
    "domainColor": "#CFD6F8"}},
  "y": {"field": "mhz", "type": "quantitative", "scale": {"domain": [800, 1200], "nice": false, "zero": false},
   "axis": {"values": [800, 900, 1000, 1100, 1200], "labelExpr": "format(datum.value / 1000, '.1f') + ' G'",
    "labelFont": "DejaVu Sans", "labelFontSize": 9.4, "labelColor": "#666666", "labelPadding": 7, "ticks": false,
    "grid": true, "gridColor": "#E04F4F", "gridOpacity": 0.6, "gridDash": [1, 2], "domainColor": "#CFD6F8",
    "title": "Hz", "titleFont": "DejaVu Sans", "titleFontSize": 9.4, "titleFontWeight": "normal", "titleColor": "#666666",
    "titleX": -56, "titleY": 87.5, "titleBaseline": "middle", "titleAngle": -90}},
  "color": {"field": "cpu", "type": "nominal",
   "scale": {"domain": [0,1,2,3,4,5,6,7,8,9,10,11], "range": ["#00CC00","#0066B3","#FF8000","#FFCC00","#330099","#990099","#CCFF00","#FF0000","#808080","#008F00","#00487D","#B35A00"]},
   "legend": null}
 }},
{"data": {"values": [{}]},
 "mark": {"type": "rule", "opacity": 0},
 "encoding": {"x": {"datum": 3.5, "type": "quantitative", "scale": {"domain": [-2.3333, 31], "nice": false, "zero": false},
   "axis": {"title": null, "orient": "bottom", "values": [3.5, 10.5, 17.5, 24.5],
    "labelExpr": "'Week ' + (21 + (datum.value - 3.5) / 7)",
    "labelFont": "DejaVu Sans", "labelFontSize": 9.4, "labelColor": "#666666", "labelPadding": 5, "labelAngle": 0, "labelOverlap": false, "labelFlush": false,
    "ticks": false, "grid": false, "domain": false}}}},
{"data": {"values": [{}]},
 "mark": {"type": "rule", "color": "#CFD6F8", "strokeWidth": 1},
 "encoding": {"x": {"datum": -2.3333, "type": "quantitative", "scale": {"domain": [-2.3333, 31], "nice": false, "zero": false}, "axis": null},
  "y": {"datum": 1200, "type": "quantitative", "scale": {"domain": [800, 1200], "nice": false, "zero": false}},
  "y2": {"datum": 1206}}},
{"data": {"values": [{}]},
 "mark": {"type": "point", "shape": "triangle-up", "filled": true, "size": 28, "color": "#CFD6F8", "opacity": 1},
 "encoding": {"x": {"datum": -2.3333, "type": "quantitative", "scale": {"domain": [-2.3333, 31], "nice": false, "zero": false}, "axis": null},
  "y": {"datum": 1208, "type": "quantitative", "scale": {"domain": [800, 1200], "nice": false, "zero": false}}}},
{"data": {"values": [{}]},
 "mark": {"type": "rule", "color": "#CFD6F8", "strokeWidth": 1},
 "encoding": {"x": {"datum": 31, "type": "quantitative", "scale": {"domain": [-2.3333, 31], "nice": false, "zero": false}, "axis": null},
  "x2": {"datum": 31.1},
  "y": {"datum": 800, "type": "quantitative", "scale": {"domain": [800, 1200], "nice": false, "zero": false}}}},
{"data": {"values": [{}]},
 "mark": {"type": "point", "shape": "triangle-right", "filled": true, "size": 28, "color": "#CFD6F8", "opacity": 1},
 "encoding": {"x": {"datum": 31.18, "type": "quantitative", "scale": {"domain": [-2.3333, 31], "nice": false, "zero": false}, "axis": null},
  "y": {"datum": 800, "type": "quantitative", "scale": {"domain": [800, 1200], "nice": false, "zero": false}}}}
]
},
{
"width": 416, "height": 168,
"layer": [
{"data": {"name": "stats"},
 "mark": {"type": "square", "size": 36, "opacity": 1, "xOffset": -50},
 "encoding": {
  "x": {"datum": "lbl", "type": "nominal", "scale": {"type": "point", "domain": ["lbl","cur","min","avg","max"], "padding": 0}, "axis": null},
  "y": {"field": "name", "type": "nominal", "scale": {"type": "point", "domain": ["head","CPU 0","CPU 1","CPU 2","CPU 3","CPU 4","CPU 5","CPU 6","CPU 7","CPU 8","CPU 9","CPU 10","CPU 11","update","munin"], "padding": 0}, "axis": null},
  "color": {"field": "cpu", "type": "nominal",
   "scale": {"domain": [0,1,2,3,4,5,6,7,8,9,10,11], "range": ["#00CC00","#0066B3","#FF8000","#FFCC00","#330099","#990099","#CCFF00","#FF0000","#808080","#008F00","#00487D","#B35A00"]},
   "legend": null}}},
{"data": {"name": "stats"},
 "mark": {"type": "text", "align": "left", "baseline": "middle", "dx": -41, "font": "DejaVu Sans Mono", "fontSize": 9.9, "color": "#666666"},
 "encoding": {
  "x": {"datum": "lbl", "type": "nominal", "scale": {"type": "point", "domain": ["lbl","cur","min","avg","max"], "padding": 0}, "axis": null},
  "y": {"field": "name", "type": "nominal", "scale": {"type": "point", "domain": ["head","CPU 0","CPU 1","CPU 2","CPU 3","CPU 4","CPU 5","CPU 6","CPU 7","CPU 8","CPU 9","CPU 10","CPU 11","update","munin"], "padding": 0}, "axis": null},
  "text": {"field": "name"}}},
{"data": {"name": "stats"},
 "transform": [{"fold": ["cur", "min", "avg", "max"], "as": ["stat", "value"]}],
 "mark": {"type": "text", "align": "right", "baseline": "middle", "font": "DejaVu Sans Mono", "fontSize": 9.9, "color": "#666666"},
 "encoding": {
  "x": {"field": "stat", "type": "nominal", "scale": {"type": "point", "domain": ["lbl","cur","min","avg","max"], "padding": 0}, "axis": null},
  "y": {"field": "name", "type": "nominal", "scale": {"type": "point", "domain": ["head","CPU 0","CPU 1","CPU 2","CPU 3","CPU 4","CPU 5","CPU 6","CPU 7","CPU 8","CPU 9","CPU 10","CPU 11","update","munin"], "padding": 0}, "axis": null},
  "text": {"field": "value"}}},
{"data": {"values": [{"stat":"cur","row":"head","label":"Cur:"},{"stat":"min","row":"head","label":"Min:"},{"stat":"avg","row":"head","label":"Avg:"},{"stat":"max","row":"head","label":"Max:"}]},
 "mark": {"type": "text", "align": "right", "baseline": "middle", "dx": -12, "font": "DejaVu Sans Mono", "fontSize": 9.9, "color": "#666666"},
 "encoding": {
  "x": {"field": "stat", "type": "nominal", "scale": {"type": "point", "domain": ["lbl","cur","min","avg","max"], "padding": 0}, "axis": null},
  "y": {"field": "row", "type": "nominal", "scale": {"type": "point", "domain": ["head","CPU 0","CPU 1","CPU 2","CPU 3","CPU 4","CPU 5","CPU 6","CPU 7","CPU 8","CPU 9","CPU 10","CPU 11","update","munin"], "padding": 0}, "axis": null},
  "text": {"field": "label"}}},
{"data": {"values": [{"stat":"max","row":"update","label":"Last update: Tue Jun 16 20:00:08 2026"}]},
 "mark": {"type": "text", "align": "right", "baseline": "middle", "font": "DejaVu Sans Mono", "fontSize": 9.9, "color": "#666666"},
 "encoding": {
  "x": {"field": "stat", "type": "nominal", "scale": {"type": "point", "domain": ["lbl","cur","min","avg","max"], "padding": 0}, "axis": null},
  "y": {"field": "row", "type": "nominal", "scale": {"type": "point", "domain": ["head","CPU 0","CPU 1","CPU 2","CPU 3","CPU 4","CPU 5","CPU 6","CPU 7","CPU 8","CPU 9","CPU 10","CPU 11","update","munin"], "padding": 0}, "axis": null},
  "text": {"field": "label"}}},
{"data": {"values": [{"stat":"min","row":"munin","label":"Munin 2.0.73"}]},
 "mark": {"type": "text", "align": "center", "baseline": "middle", "dx": -27, "font": "DejaVu Sans", "fontSize": 7.5, "color": "#C8C8C8"},
 "encoding": {
  "x": {"field": "stat", "type": "nominal", "scale": {"type": "point", "domain": ["lbl","cur","min","avg","max"], "padding": 0}, "axis": null},
  "y": {"field": "row", "type": "nominal", "scale": {"type": "point", "domain": ["head","CPU 0","CPU 1","CPU 2","CPU 3","CPU 4","CPU 5","CPU 6","CPU 7","CPU 8","CPU 9","CPU 10","CPU 11","update","munin"], "padding": 0}, "axis": null},
  "text": {"field": "label"}}}
]
}
]
}
